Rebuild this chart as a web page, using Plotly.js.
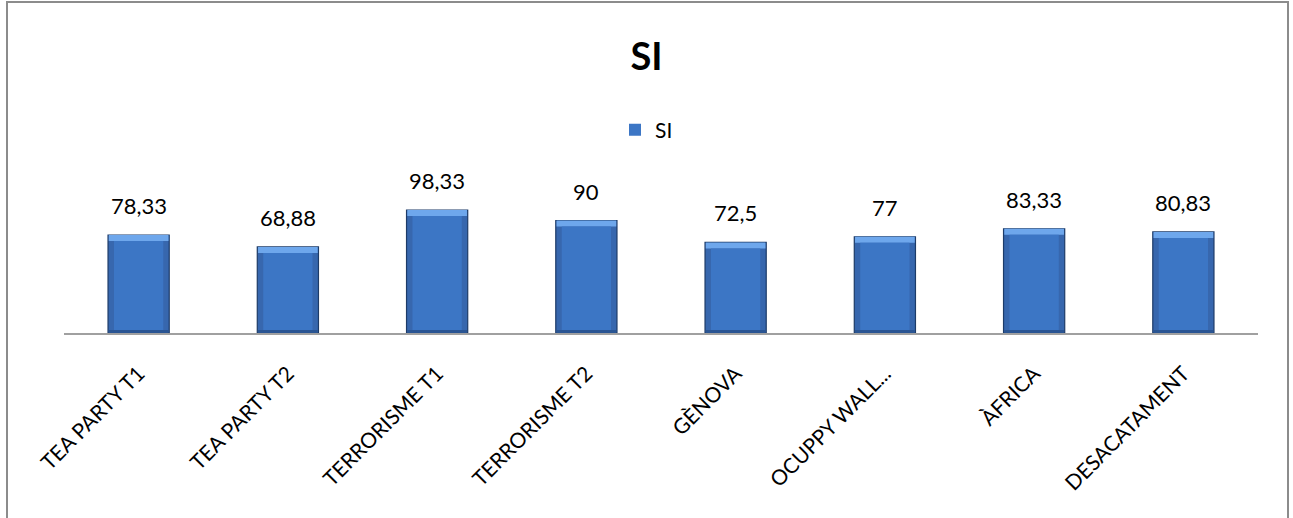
<!DOCTYPE html>
<html>
<head>
<meta charset="utf-8">
<script src="https://cdn.plot.ly/plotly-3.0.1.min.js"></script>
<style>
  html, body { margin: 0; padding: 0; background: #ffffff; }
  #wrap { position: relative; width: 1293px; height: 518px; overflow: hidden; }
  #chart { width: 1293px; height: 518px; }
  #frame {
    position: absolute; left: 6px; top: 1px; width: 1279px; height: 530px;
    border: 2px solid #8c8c8c; pointer-events: none;
  }
</style>
</head>
<body>
<div id="wrap">
  <div id="chart"></div>
  <div id="frame"></div>
</div>
<script>
// Categories and "SI" scores
const categories = ['TEA PARTY T1', 'TEA PARTY T2', 'TERRORISME T1', 'TERRORISME T2',
                    'GÈNOVA', 'OCUPPY WALL...', 'ÀFRICA', 'DESACATAMENT'];
const siValues = [78.33, 68.88, 98.33, 90, 72.5, 77, 83.33, 80.83];
const seriesName = 'SI';

// Values shown with a comma as decimal separator
const siLabels = siValues.map(v => String(v).replace('.', ','));

const FONT = 'Lato, "Open Sans", sans-serif';

// Bevel sizes, in axis units
const topBevel = 4.8;
const bottomBevel = 2.4;

// Outer body of each bar (side bevels)
const outer = {
  type: 'bar', showlegend: false, hoverinfo: 'skip',
  x: categories,
  y: siValues,
  width: 0.41,
  marker: { color: '#3767ae', line: { color: '#1d3b68', width: 1.2 } }
};

// Light top bevel
const topEdge = {
  type: 'bar', showlegend: false, hoverinfo: 'skip',
  x: categories,
  base: siValues.map(v => v - topBevel),
  y: siValues.map(() => topBevel),
  width: 0.40,
  marker: { color: '#6ea7ec', line: { width: 0 } }
};

// Darker bottom bevel
const bottomEdge = {
  type: 'bar', showlegend: false, hoverinfo: 'skip',
  x: categories,
  base: siValues.map(() => 0),
  y: siValues.map(() => bottomBevel),
  width: 0.40,
  marker: { color: '#2a5593', line: { width: 0 } }
};

// Inner face of each bar (carries the legend entry)
const face = {
  type: 'bar', name: seriesName, showlegend: true, hoverinfo: 'skip',
  x: categories,
  base: siValues.map(() => bottomBevel),
  y: siValues.map(v => v - topBevel - bottomBevel),
  width: 0.33,
  marker: { color: '#3c76c5', line: { color: '#2a5593', width: 0 } }
};

// Value labels above the bars
const valueAnnotations = categories.map((c, i) => ({
  x: c, y: siValues[i], xref: 'x', yref: 'y',
  text: siLabels[i], showarrow: false,
  yanchor: 'bottom', yshift: 14,
  font: { family: FONT, size: 22, color: '#000000' }
}));

const layout = {
  width: 1293, height: 518,
  margin: { l: 64, r: 35, t: 183, b: 185 },
  paper_bgcolor: '#ffffff', plot_bgcolor: '#ffffff',
  barmode: 'overlay',
  font: { family: FONT, color: '#000000' },
  title: {
    text: '<b>SI</b>',
    font: { family: FONT, size: 38, color: '#000000' },
    x: 0.5, xanchor: 'center', xref: 'container',
    y: 1 - 57 / 518, yanchor: 'middle', yref: 'container'
  },
  showlegend: true,
  legend: {
    orientation: 'h',
    x: 0.5, xanchor: 'center', xref: 'container',
    y: 1 - 130 / 518, yanchor: 'middle', yref: 'container',
    font: { family: FONT, size: 21, color: '#000000' },
    itemwidth: 30
  },
  xaxis: {
    type: 'category',
    tickangle: -45,
    ticks: '',
    ticklabelstandoff: 18,
    tickfont: { family: FONT, size: 21, color: '#000000' },
    showline: true, linecolor: '#a0a0a0', linewidth: 2,
    showgrid: false, zeroline: false, fixedrange: true
  },
  yaxis: {
    range: [0, 120],
    visible: false,
    showgrid: false, zeroline: false, fixedrange: true
  },
  annotations: valueAnnotations
};

Plotly.newPlot('chart', [outer, topEdge, bottomEdge, face], layout,
  { staticPlot: true, displayModeBar: false });
</script>
</body>
</html>
